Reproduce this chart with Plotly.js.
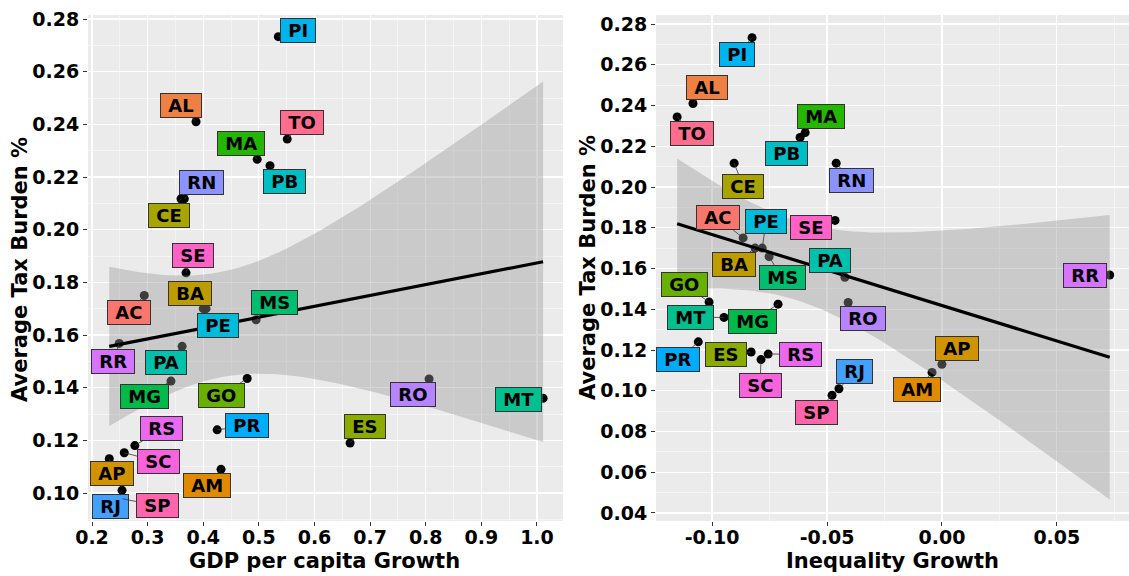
<!DOCTYPE html>
<html><head><meta charset="utf-8">
<script src="https://cdn.plot.ly/plotly-3.0.1.min.js"></script>
<style>html,body{margin:0;padding:0;background:#fff;}#chart{width:1129px;height:576px;}</style>
</head><body><div id="chart"></div>
<script>
// ---- data ----
const states = ['AC','AL','AM','AP','BA','CE','ES','GO','MA','MG','MS','MT','PA','PB','PE','PI','PR','RJ','RN','RO','RR','RS','SC','SE','SP','TO'];
const taxBurden = [0.175,0.241,0.109,0.113,0.170,0.2117,0.119,0.1435,0.2267,0.1425,0.1658,0.136,0.1557,0.2243,0.170,0.2733,0.124,0.101,0.2117,0.1433,0.1568,0.118,0.1153,0.1836,0.0978,0.2344];
const gdpGrowth = [0.294,0.387,0.432,0.231,0.405,0.360,0.664,0.479,0.497,0.342,0.495,1.011,0.362,0.520,0.400,0.535,0.425,0.254,0.366,0.806,0.249,0.277,0.258,0.369,0.255,0.551];
const inequalityGrowth = [-0.0865,-0.1083,-0.0043,0.0,-0.0813,-0.0904,-0.083,-0.1013,-0.0595,-0.0713,-0.0752,-0.0948,-0.0422,-0.0617,-0.0782,-0.0826,-0.106,-0.0448,-0.046,-0.0408,0.073,-0.0756,-0.0787,-0.0465,-0.0478,-0.1152];
const xTicksL = [0.2,0.3,0.4,0.5,0.6,0.7,0.8,0.9,1.0];
const xTickTextL = ['0.2','0.3','0.4','0.5','0.6','0.7','0.8','0.9','1.0'];
const yTicksL = [0.10,0.12,0.14,0.16,0.18,0.20,0.22,0.24,0.26,0.28];
const yTickTextL = ['0.10','0.12','0.14','0.16','0.18','0.20','0.22','0.24','0.26','0.28'];
const xTicksR = [-0.10,-0.05,0.00,0.05];
const xTickTextR = ['-0.10','-0.05','0.00','0.05'];
const yTicksR = [0.04,0.06,0.08,0.10,0.12,0.14,0.16,0.18,0.20,0.22,0.24,0.26,0.28];
const yTickTextR = ['0.04','0.06','0.08','0.10','0.12','0.14','0.16','0.18','0.20','0.22','0.24','0.26','0.28'];
const yTitle = 'Average Tax Burden %';
const xTitleL = 'GDP per capita Growth';
const xTitleR = 'Inequality Growth';

// ---- label placement (pixel offsets of label centre from its point) ----
const labelOffsetsL = {AC:[-15,17],AL:[-15,-16],AM:[-14,16],AP:[3,15],BA:[-16,-15],CE:[-12,17],ES:[15,-16],GO:[-26,17],MA:[-16,-16],MG:[-26,15],MS:[18,-17],MT:[-25,1],PA:[-16,16],PB:[15,16],PE:[15,17],PI:[20,-6],PR:[30,-4],RJ:[-12,16],RN:[17,-16],RO:[-16,16],RR:[-6,18],RS:[27,-17],SC:[34,9],SE:[7,-17],SP:[35,7],TO:[15,-17]};
const labelOffsetsR = {AC:[-25,-20],AL:[14,-16],AM:[-15,17],AP:[15,-16],BA:[-21,16],CE:[9,23],ES:[-25,2],GO:[-25,-18],MA:[16,-16],MG:[-26,17],MS:[13,21],MT:[-34,0],PA:[-15,-17],PB:[-14,16],PE:[4,-27],PI:[-15,17],PR:[-20,18],RJ:[16,-17],RN:[15,17],RO:[15,16],RR:[-25,0],RS:[32,0],SC:[-1,26],SE:[-24,7],SP:[-16,17],TO:[15,17]};

// ggplot2 hue palette (HCL, l=65, c=100)
function hcl(h, c, l) {
  const hr = h * Math.PI / 180;
  const U = c * Math.cos(hr), V = c * Math.sin(hr);
  const Xn = 95.047, Yn = 100.0, Zn = 108.883;
  const Y = l > 7.999592 ? Yn * Math.pow((l + 16) / 116, 3) : Yn * l / 903.3;
  const den = Xn + 15 * Yn + 3 * Zn;
  const un = 4 * Xn / den, vn = 9 * Yn / den;
  const u = U / (13 * l) + un, v = V / (13 * l) + vn;
  const X = 9 * Y * u / (4 * v);
  const Z = -X / 3 - 5 * Y + 3 * Y / v;
  const x = X / 100, y = Y / 100, z = Z / 100;
  const r = 3.240479 * x - 1.537150 * y - 0.498535 * z;
  const g = -0.969256 * x + 1.875992 * y + 0.041556 * z;
  const b = 0.055648 * x - 0.204043 * y + 1.057311 * z;
  const gam = t => { t = t <= 0.0031308 ? 12.92 * t : 1.055 * Math.pow(t, 1 / 2.4) - 0.055; return Math.round(255 * Math.min(1, Math.max(0, t))); };
  return `rgb(${gam(r)},${gam(g)},${gam(b)})`;
}
const colors = states.map((s, i) => hcl(15 + i * 360 / states.length, 100, 65));

// linear fit with 95% confidence band (t, df = n-2 = 24)
function lmFit(xs, ys) {
  const n = xs.length;
  const mx = xs.reduce((a, b) => a + b, 0) / n, my = ys.reduce((a, b) => a + b, 0) / n;
  let sxx = 0, sxy = 0;
  for (let i = 0; i < n; i++) { sxx += (xs[i] - mx) ** 2; sxy += (xs[i] - mx) * (ys[i] - my); }
  const b = sxy / sxx, a = my - b * mx;
  let sse = 0;
  for (let i = 0; i < n; i++) sse += (ys[i] - a - b * xs[i]) ** 2;
  const s = Math.sqrt(sse / (n - 2));
  const t = 2.0639;
  const lo = Math.min(...xs), hi = Math.max(...xs);
  const gx = [], gy = [], up = [], dn = [];
  for (let k = 0; k <= 80; k++) {
    const x = lo + (hi - lo) * k / 80;
    const yh = a + b * x;
    const se = s * Math.sqrt(1 / n + (x - mx) ** 2 / sxx);
    gx.push(x); gy.push(yh); up.push(yh + t * se); dn.push(yh - t * se);
  }
  return {gx, gy, up, dn};
}

const FONT = 'DejaVu Sans, Arial, sans-serif';
function panelTraces(xs, xa, ya) {
  const f = lmFit(xs, taxBurden);
  return [
    {type: 'scatter', mode: 'markers', x: xs, y: taxBurden, xaxis: xa, yaxis: ya,
     marker: {color: '#000', size: 9}, hoverinfo: 'skip'},
    {type: 'scatter', mode: 'lines', x: f.gx.concat(f.gx.slice().reverse()), y: f.up.concat(f.dn.slice().reverse()),
     xaxis: xa, yaxis: ya, fill: 'toself', fillcolor: 'rgba(153,153,153,0.4)', line: {width: 0}, hoverinfo: 'skip'},
    {type: 'scatter', mode: 'lines', x: f.gx, y: f.gy, xaxis: xa, yaxis: ya,
     line: {color: '#000', width: 3.2}, hoverinfo: 'skip'}
  ];
}
function panelLabels(xs, xref, yref, offsets) {
  return states.map((s, i) => ({
    x: xs[i], y: taxBurden[i], xref, yref,
    text: '<b>\u00a0' + s + '\u00a0</b>',
    showarrow: true, arrowhead: 0, arrowwidth: 0.8, arrowcolor: '#333', standoff: 0,
    ax: offsets[s][0], ay: offsets[s][1],
    bgcolor: colors[i], bordercolor: '#333', borderwidth: 1, borderpad: 1,
    font: {family: FONT, size: 18, color: '#000'}
  }));
}

const W = 1129, H = 576;
const yDom = [(H - 521) / H, (H - 15) / H];
const tickFont = {family: FONT, size: 19, color: '#000', weight: 'bold'};
const common = {showgrid: true, gridcolor: '#fff', gridwidth: 1.2, zeroline: false, showline: false,
  ticks: 'outside', ticklen: 4, tickwidth: 1, tickcolor: '#333', tickfont: tickFont, fixedrange: true};

const layout = {
  width: W, height: H, margin: {l: 0, r: 0, t: 0, b: 0},
  paper_bgcolor: '#fff', plot_bgcolor: '#EBEBEB', showlegend: false,
  xaxis: Object.assign({}, common, {domain: [88 / W, 563 / W], range: [0.1928, 1.0468], anchor: 'y',
    tickmode: 'array', tickvals: xTicksL, ticktext: xTickTextL, ticklabelstandoff: -5,
    minor: {tickmode: 'array', tickvals: [0.25,0.35,0.45,0.55,0.65,0.75,0.85,0.95,1.05], showgrid: true, gridcolor: '#fff', gridwidth: 0.5}}),
  yaxis: Object.assign({}, common, {domain: yDom, range: [0.08937, 0.28152], anchor: 'x',
    tickmode: 'array', tickvals: yTicksL, ticktext: yTickTextL,
    minor: {tickmode: 'array', tickvals: [0.09,0.11,0.13,0.15,0.17,0.19,0.21,0.23,0.25,0.27], showgrid: true, gridcolor: '#fff', gridwidth: 0.5}}),
  xaxis2: Object.assign({}, common, {domain: [656 / W, 1], range: [-0.1244, 0.0814], anchor: 'y2',
    tickmode: 'array', tickvals: xTicksR, ticktext: xTickTextR, ticklabelstandoff: -5,
    minor: {tickmode: 'array', tickvals: [-0.125,-0.075,-0.025,0.025,0.075], showgrid: true, gridcolor: '#fff', gridwidth: 0.5}}),
  yaxis2: Object.assign({}, common, {domain: yDom, range: [0.03607, 0.28442], anchor: 'x2',
    tickmode: 'array', tickvals: yTicksR, ticktext: yTickTextR,
    minor: {tickmode: 'array', tickvals: [0.05,0.07,0.09,0.11,0.13,0.15,0.17,0.19,0.21,0.23,0.25,0.27], showgrid: true, gridcolor: '#fff', gridwidth: 0.5}}),
  annotations: [
    {text: '<b>' + yTitle + '</b>', xref: 'paper', yref: 'paper', x: 20 / W, y: (H - 270) / H, textangle: -90,
     showarrow: false, xanchor: 'center', yanchor: 'middle', font: {family: FONT, size: 21, color: '#000'}},
    {text: '<b>' + yTitle + '</b>', xref: 'paper', yref: 'paper', x: 588 / W, y: (H - 268) / H, textangle: -90,
     showarrow: false, xanchor: 'center', yanchor: 'middle', font: {family: FONT, size: 21, color: '#000'}},
    {text: '<b>' + xTitleL + '</b>', xref: 'paper', yref: 'paper', x: 324 / W, y: (H - 561) / H,
     showarrow: false, xanchor: 'center', yanchor: 'middle', font: {family: FONT, size: 21, color: '#000'}},
    {text: '<b>' + xTitleR + '</b>', xref: 'paper', yref: 'paper', x: 892 / W, y: (H - 561) / H,
     showarrow: false, xanchor: 'center', yanchor: 'middle', font: {family: FONT, size: 21, color: '#000'}}
  ].concat(panelLabels(gdpGrowth, 'x', 'y', labelOffsetsL), panelLabels(inequalityGrowth, 'x2', 'y2', labelOffsetsR))
};

const data = panelTraces(gdpGrowth, 'x', 'y').concat(panelTraces(inequalityGrowth, 'x2', 'y2'));
Plotly.newPlot('chart', data, layout, {displayModeBar: false, staticPlot: true});
</script></body></html>
